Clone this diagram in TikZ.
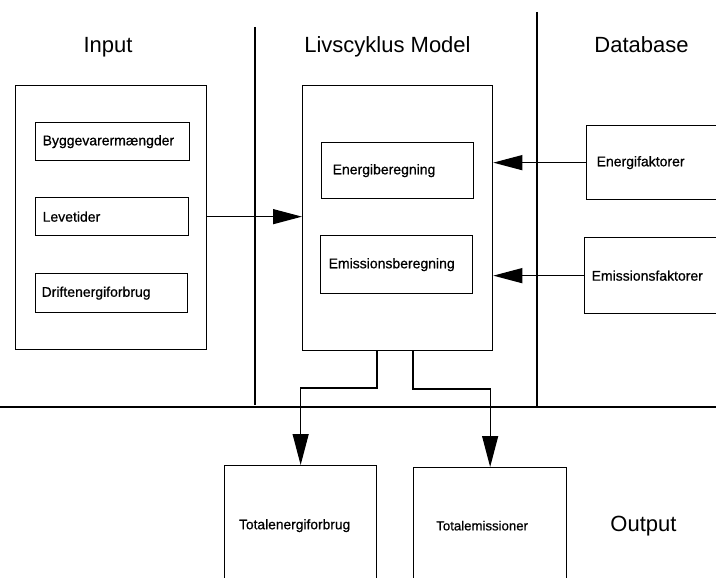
\documentclass[tikz,border=0pt]{standalone}
\usepackage{fontspec}
\setmainfont{Liberation Sans}
\newfontfamily\boxfont[FakeBold=0.7]{Liberation Sans}
\usetikzlibrary{arrows.meta,calc}
\tikzset{
  frame/.style={draw, line width=1.3pt, inner sep=0pt, anchor=north west},
  inbox/.style={draw, line width=1.3pt, anchor=north west, inner ysep=0pt,
    font=\boxfont\fontsize{14}{16}\selectfont, align=left},
  title/.style={font=\fontsize{22}{26}\selectfont, anchor=base, inner sep=0pt},
  rule/.style={line width=1.2pt},
  conn/.style={line width=1.2pt, -{Triangle[length=29pt,width=15pt]}},
  outconn/.style={line width=1.2pt, -{Triangle[length=31pt,width=16pt]}},
}
\begin{document}
\begin{tikzpicture}[x=1pt,y=-1pt]
\useasboundingbox (0,0) rectangle (716,578);
% section rules
\coordinate (v1t) at (255,27);
\coordinate (v1b) at (255,405);
\coordinate (v2t) at (537,12);
\coordinate (v2b) at (537,408);
\coordinate (hl) at (0,407);
\coordinate (hr) at (716,407);
\draw[rule] (v1t) -- (v1b);
\draw[rule] (v2t) -- (v2b);
\draw[rule] (hl) -- (hr);
% titles
\node[title] (tin) at (108,53) {Input};
\node[title] (tmod) at (387.5,53) {Livscyklus Model};
\node[title] (tdb) at (641.5,53) {Database};
\node[title] (tout) at (643.5,531) {Output};
% input
\node[frame, minimum width=191pt, minimum height=264pt] (inp) at (15,85) {};
\node[inbox, inner xsep=7pt, text width=140pt, minimum height=38pt] (byg) at (35,122) {Byggevarermængder};
\node[inbox, inner xsep=7pt, text width=139pt, minimum height=38pt] (lev) at (35,197) {Levetider};
\node[inbox, inner xsep=6pt, text width=140pt, minimum height=39pt] (dri) at (35,273) {Driftenergiforbrug};
% model
\node[frame, minimum width=190pt, minimum height=265pt] (mod) at (302,85) {};
\node[inbox, inner xsep=11pt, text width=130pt, minimum height=56pt] (eb) at (321,142) {Energiberegning};
\node[inbox, inner xsep=8pt, text width=136pt, minimum height=58pt] (emb) at (320,235) {Emissionsberegning};
% database
\node[inbox, inner xsep=10pt, text width=200pt, minimum height=74pt] (ef) at (586,125) {Energifaktorer};
\node[inbox, inner xsep=7pt, text width=200pt, minimum height=76pt] (emf) at (584,237) {Emissionsfaktorer};
% output
\node[inbox, align=center, inner xsep=0pt, text width=152pt, minimum height=120pt, font=\boxfont\fontsize{13.8}{16}\selectfont] (teo) at (224,465) {\hspace*{-12pt}Totalenergiforbrug};
\node[inbox, align=center, inner xsep=0pt, text width=153pt, minimum height=116pt, font=\boxfont\fontsize{13.2}{16}\selectfont] (tem) at (413,467) {\hspace*{-16pt}Totalemissioner};
% connectors
\draw[conn] (inp.east |- lev.center) -- (mod.west |- lev.center);
\draw[conn] (ef.west) -- (mod.east |- ef.west);
\draw[conn] (emf.west) -- (mod.east |- emf.west);
\coordinate (o1) at (377,350);
\coordinate (o2) at (413,350);
\draw[outconn] (o1) -- ++(0,38) -| (teo.north);
\draw[outconn] (o2) -- ++(0,39) -| (tem.north);
\end{tikzpicture}
\end{document}
